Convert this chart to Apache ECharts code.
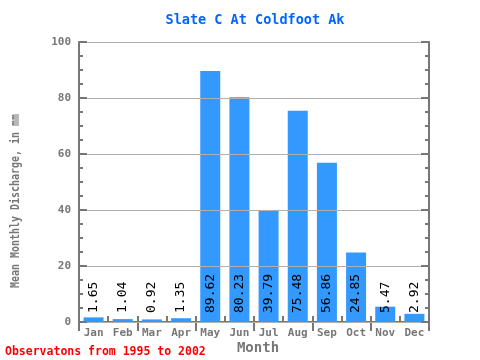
<!DOCTYPE html>
<html><head><meta charset="utf-8">
<script src="https://cdn.jsdelivr.net/npm/echarts@6/dist/echarts.min.js"></script>
<style>html,body{margin:0;padding:0;background:#fff}#c{width:480px;height:360px}</style>
</head><body><div id="c"></div>
<script>
const months = ['Jan','Feb','Mar','Apr','May','Jun','Jul','Aug','Sep','Oct','Nov','Dec'];
const discharge = [1.65,1.04,0.92,1.35,89.62,80.23,39.79,75.48,56.86,24.85,5.47,2.92];
const yTicks = [0,20,40,60,80,100];
const titleText = 'Slate C At Coldfoot Ak';
const yName = 'Mean Monthly Discharge, in mm';
const xName = 'Month';
const footer = 'Observatons from 1995 to 2002';

const FONT = 'DejaVu Sans Mono';
const GRAY = '#777777';
const chart = echarts.init(document.getElementById('c'), null, {renderer:'canvas'});
const yCommon = {
  type:'value', min:yTicks[0], max:yTicks[yTicks.length-1], interval:20,
  axisLine:{show:true, lineStyle:{color:GRAY, width:2}},
  axisTick:{show:true, inside:true, length:8, lineStyle:{color:GRAY, width:2}},
  minorTick:{show:true, splitNumber:4, length:4, lineStyle:{color:GRAY, width:2}},
};
chart.setOption({
  animation:false,
  title:{text:titleText, left:250, textAlign:'center', top:8,
    textStyle:{fontFamily:FONT, fontSize:13.5, fontWeight:'bold', color:'#0066ff'}},
  grid:{left:79, right:51, top:42, bottom:38, containLabel:false, outerBoundsMode:'none'},
  xAxis:[{
    type:'category', data:months, position:'bottom',
    axisLine:{onZero:false, lineStyle:{color:GRAY, width:2}},
    axisTick:{show:true, inside:true, length:6, lineStyle:{color:GRAY, width:2}},
    axisLabel:{fontFamily:FONT, fontSize:11, fontWeight:'bold', color:GRAY, margin:6, interval:0},
    splitLine:{show:false}
  },{
    type:'category', data:months, position:'top',
    axisLine:{lineStyle:{color:GRAY, width:2}},
    axisTick:{show:true, inside:true, length:9, lineStyle:{color:GRAY, width:2}},
    axisLabel:{show:false}, splitLine:{show:false}
  }],
  yAxis:[Object.assign({}, yCommon, {
    position:'left', z:5,
    axisLabel:{fontFamily:FONT, fontSize:11, fontWeight:'bold', color:GRAY, margin:8},
    splitLine:{show:true, lineStyle:{color:'#b0b0b0', width:1}}
  }), Object.assign({}, yCommon, {
    position:'right', z:5,
    axisLabel:{show:false}, splitLine:{show:false}
  })],
  graphic:[{
    type:'text', x:16, y:201, rotation:Math.PI/2, scaleX:0.83,
    style:{text:yName, fontFamily:FONT, fontSize:12, fontWeight:'bold', fill:GRAY, align:'center', verticalAlign:'middle'}
  },{
    type:'text', x:258, y:348,
    style:{text:xName, fontFamily:FONT, fontSize:14, fontWeight:'bold', fill:GRAY, align:'center', verticalAlign:'middle'}
  },{
    type:'text', left:5, top:346,
    style:{text:footer, fontFamily:FONT, fontSize:11.5, fontWeight:'bold', fill:'#ff0000'}
  }],
  series:[{
    type:'bar', data:discharge, xAxisIndex:0, yAxisIndex:0, barWidth:20,
    itemStyle:{color:'#3399ff'},
    label:{show:true, position:'insideBottom', rotate:90, align:'left', verticalAlign:'middle',
      distance:9, fontFamily:FONT, fontSize:13, color:'#000',
      formatter:p=>p.value.toFixed(2)}
  }]
});
</script></body></html>
